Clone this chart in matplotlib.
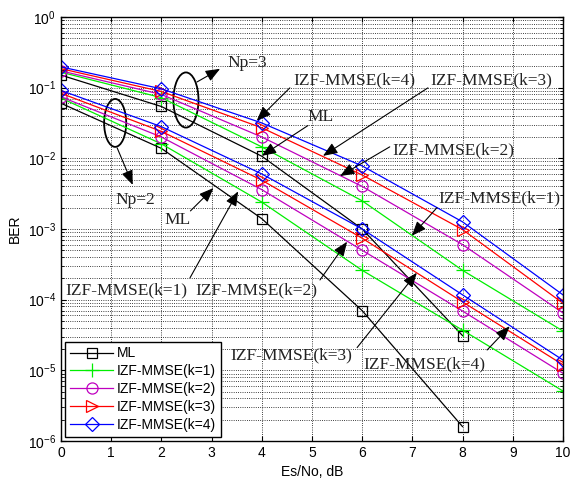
import numpy as np
import matplotlib
matplotlib.use("Agg")
import matplotlib.pyplot as plt
from matplotlib.patches import Ellipse

plt.rcParams['font.family'] = ['Liberation Sans', 'DejaVu Sans']

snr = [0, 2, 4, 6, 8, 10]

# Np=3 curves
ml_np3 = [0.15, 0.054, 0.0107, 0.001, 3.1e-5]
k1_np3 = [0.165, 0.072, 0.0145, 0.0025, 2.6e-4, 3.6e-5]
k2_np3 = [0.172, 0.080, 0.020, 0.0040, 6.0e-4, 6.5e-5]
k3_np3 = [0.185, 0.088, 0.027, 0.0058, 9.8e-4, 8.9e-5]
k4_np3 = [0.196, 0.096, 0.0316, 0.0078, 1.26e-3, 1.17e-4]

# Np=2 curves
ml_np2 = [0.060, 0.0138, 0.0014, 7.0e-5, 1.6e-6]
k1_np2 = [0.071, 0.016, 0.0024, 2.6e-4, 3.7e-5, 5.1e-6]
k2_np2 = [0.074, 0.020, 0.0036, 5.0e-4, 6.9e-5, 9.1e-6]
k3_np2 = [0.083, 0.024, 0.0049, 7.4e-4, 9.3e-5, 1.2e-5]
k4_np2 = [0.091, 0.028, 0.0060, 1.0e-3, 1.17e-4, 1.4e-5]

labels = ['ML', 'IZF-MMSE(k=1)', 'IZF-MMSE(k=2)', 'IZF-MMSE(k=3)', 'IZF-MMSE(k=4)']
colors = ['k', '#00ee00', 'm', 'r', 'b']
markers = ['s', '+', 'o', '>', 'D']
sizes = [7, 10, 8, 8, 7]

fig = plt.figure(figsize=(5.75, 4.82), dpi=100)
ax = fig.add_axes([0.106, 0.085, 0.873, 0.88])

sets3 = [ml_np3, k1_np3, k2_np3, k3_np3, k4_np3]
sets2 = [ml_np2, k1_np2, k2_np2, k3_np2, k4_np2]
for i in range(5):
    for j, data in enumerate((sets3[i], sets2[i])):
        ax.semilogy(snr[:len(data)], data, color=colors[i], marker=markers[i],
                    markersize=sizes[i], markerfacecolor='none', lw=0.9,
                    mew=0.9, label=labels[i] if j == 0 else None)

ax.set_xlim(0, 10)
ax.set_ylim(1e-6, 1)
ax.set_xticks(range(11))
ax.grid(True, which='major', ls=':', color='k', lw=0.6)
ax.grid(True, which='minor', axis='y', ls=':', color='k', lw=0.6)
ax.tick_params(direction='in', which='both', top=True, right=True, labelsize=10)
ax.tick_params(axis='x', which='minor', bottom=False, top=False)
ax.set_xlabel('Es/No, dB', fontsize=10, labelpad=4)
ax.set_ylabel('BER', fontsize=10)
for s in ax.spines.values():
    s.set_linewidth(1.0)

leg = ax.legend(loc='lower left', fontsize=10, handlelength=3.1,
                handletextpad=0.25, fancybox=False, edgecolor='k',
                framealpha=1, borderaxespad=0.3, labelspacing=0.28,
                borderpad=0.35)
leg.get_frame().set_linewidth(1.0)

# callouts
serif = dict(family=['Liberation Serif', 'DejaVu Serif'], size=12.5)
arrow = dict(arrowstyle='-|>,head_length=0.55,head_width=0.22', color='k',
             lw=0.8, mutation_scale=16, shrinkA=0, shrinkB=0)

callouts = [
    # text, text pos, arrow start, arrow tip
    ('Np=3', (3.31, 0.224), (2.71, 0.12), (3.17, 0.184)),
    ('Np=2', (1.08, 0.0026), (1.12, 0.014), (1.43, 0.0042)),
    ('ML', (2.07, 0.00134), (2.58, 0.0018), (3.04, 0.0038)),
    ('IZF-MMSE(k=1)', (0.08, 1.37e-4), (2.57, 2.03e-4), (3.53, 0.0034)),
    ('IZF-MMSE(k=2)', (2.67, 1.37e-4), (5.16, 1.9e-4), (5.70, 6.6e-4)),
    ('IZF-MMSE(k=3)', (3.37, 1.65e-5), (5.90, 2.1e-5), (7.09, 2.4e-4)),
    ('IZF-MMSE(k=4)', (6.02, 1.23e-5), (8.49, 1.94e-5), (8.94, 4.2e-5)),
    ('IZF-MMSE(k=4)', (4.62, 0.128), (4.56, 0.099), (3.90, 0.034)),
    ('IZF-MMSE(k=3)', (7.35, 0.128), (7.31, 0.099), (5.22, 0.0108)),
    ('ML', (4.92, 0.0385), (4.92, 0.029), (4.00, 0.0108)),
    ('IZF-MMSE(k=2)', (6.61, 0.013), (6.55, 0.0145), (5.56, 0.0056)),
    ('IZF-MMSE(k=1)', (7.51, 0.00275), (7.49, 0.002), (6.99, 8.0e-4)),
]
for txt, tpos, a0, a1 in callouts:
    ax.text(tpos[0], tpos[1], txt, fontdict=serif, va='center', ha='left',
            color='#222222', zorder=6)
    ax.annotate('', xy=a1, xytext=a0, arrowprops=arrow)

# ellipses around the two pilot groups
ax.add_patch(Ellipse((0.249, 0.804), 0.05, 0.13, transform=ax.transAxes,
                     fill=False, ec='k', lw=1.3))
ax.add_patch(Ellipse((0.108, 0.75), 0.044, 0.113, transform=ax.transAxes,
                     fill=False, ec='k', lw=1.3))

fig.savefig('out.png', dpi=100)
